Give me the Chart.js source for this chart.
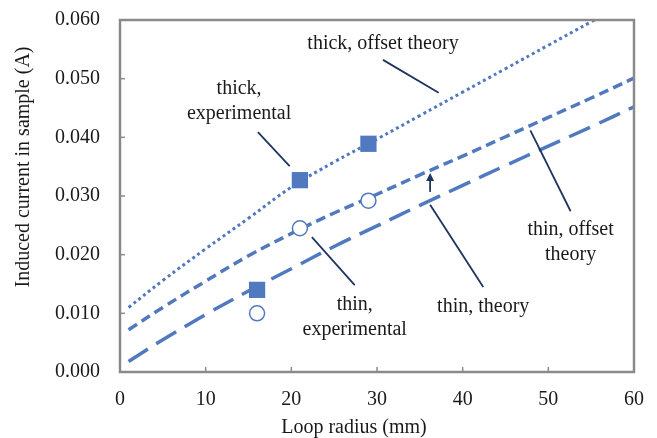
<!DOCTYPE html>
<html>
<head>
<meta charset="utf-8">
<script src="https://cdn.jsdelivr.net/npm/chart.js@4.4.1/dist/chart.umd.min.js"></script>
<style>
  html, body { margin: 0; padding: 0; background: #fff; }
  #wrap { width: 657px; height: 438px; }
</style>
</head>
<body>
<div id="wrap"><canvas id="c" width="657" height="438"></canvas></div>
<script>
// loop radius (mm) for the theory curves
const radius = [1, 5, 10, 15, 20, 25, 30, 35, 40, 45, 50, 55, 60];
const thickOffsetTheory = [0.0110, 0.0156, 0.0210, 0.0262, 0.0315, 0.0358, 0.0397, 0.0437, 0.0477, 0.0517, 0.0557, 0.0597, 0.0637];
const thinOffsetTheory = [0.0072, 0.0110, 0.0155, 0.0198, 0.0236, 0.0271, 0.0303, 0.0336, 0.0368, 0.0401, 0.0434, 0.0467, 0.0501];
const thinTheory = [0.0018, 0.0055, 0.0098, 0.0138, 0.0176, 0.0214, 0.0249, 0.0284, 0.0318, 0.0352, 0.0385, 0.0418, 0.0452];

// measured points
const expRadius = [16, 21, 29];
const thickExperimental = [0.0140, 0.0327, 0.0389];
const thinExperimental = [0.0100, 0.0245, 0.0292];

const xTicks = [0, 10, 20, 30, 40, 50, 60];
const yTicks = [0, 0.01, 0.02, 0.03, 0.04, 0.05, 0.06];

// callouts, in data units
const notes = [
  { lines: ['thick, offset theory'], x: 30.7, y: 0.0560, from: [30.7, 0.0532], to: [37.2, 0.0476] },
  { lines: ['thick,', 'experimental'], x: 13.9, y: 0.0462, from: [16.1, 0.0409], to: [19.8, 0.0351] },
  { lines: ['thin, offset', 'theory'], x: 52.6, y: 0.0221, from: [47.9, 0.0412], to: [52.6, 0.0274] },
  { lines: ['thin, theory'], x: 42.4, y: 0.0112, from: [36.2, 0.0285], to: [42.4, 0.0145] },
  { lines: ['thin,', 'experimental'], x: 27.4, y: 0.0094, from: [22.4, 0.0230], to: [27.4, 0.0148] }
];
const arrow = { x: 36.2, from: 0.0307, to: 0.0339 };

const BLUE = '#5079c0';
const NAVY = '#1f3560';
const FONT = '"Liberation Serif", "Times New Roman", serif';

const pts = (xs, ys) => xs.map((x, i) => ({ x: x, y: ys[i] }));

const extras = {
  id: 'extras',
  afterDraw(chart) {
    const { ctx, chartArea: a, scales: { x, y } } = chart;
    ctx.save();
    // frame and inward ticks
    ctx.strokeStyle = '#8a8a8a';
    ctx.lineWidth = 1.5;
    xTicks.slice(1, -1).forEach(v => {
      const px = x.getPixelForValue(v);
      ctx.beginPath(); ctx.moveTo(px, a.bottom); ctx.lineTo(px, a.bottom - 5); ctx.stroke();
    });
    yTicks.slice(1, -1).forEach(v => {
      const py = y.getPixelForValue(v);
      ctx.beginPath(); ctx.moveTo(a.left, py); ctx.lineTo(a.left + 5, py); ctx.stroke();
    });
    ctx.lineWidth = 2.5;
    ctx.strokeRect(a.left, a.top, a.right - a.left, a.bottom - a.top);

    // leader lines
    ctx.strokeStyle = NAVY;
    ctx.lineWidth = 1.8;
    notes.forEach(n => {
      ctx.beginPath();
      ctx.moveTo(x.getPixelForValue(n.from[0]), y.getPixelForValue(n.from[1]));
      ctx.lineTo(x.getPixelForValue(n.to[0]), y.getPixelForValue(n.to[1]));
      ctx.stroke();
    });
    // arrow
    const ax = x.getPixelForValue(arrow.x);
    const a0 = y.getPixelForValue(arrow.from), a1 = y.getPixelForValue(arrow.to);
    ctx.beginPath(); ctx.moveTo(ax, a0); ctx.lineTo(ax, a1 + 6); ctx.stroke();
    ctx.fillStyle = NAVY;
    ctx.beginPath(); ctx.moveTo(ax, a1); ctx.lineTo(ax - 4, a1 + 8); ctx.lineTo(ax + 4, a1 + 8); ctx.closePath(); ctx.fill();

    // callout text
    ctx.fillStyle = '#1a1a1a';
    ctx.font = '20px ' + FONT;
    ctx.textAlign = 'center';
    ctx.textBaseline = 'middle';
    notes.forEach(n => {
      const cx = x.getPixelForValue(n.x), cy = y.getPixelForValue(n.y);
      const top = cy - (n.lines.length - 1) * 12.5;
      n.lines.forEach((t, i) => ctx.fillText(t, cx, top + i * 25));
    });

    // axis titles
    ctx.fillText('Loop radius (mm)', 354, 428);
    ctx.translate(24, 167);
    ctx.rotate(-Math.PI / 2);
    ctx.fillText('Induced current in sample (A)', 0, 0);
    ctx.restore();
  }
};

new Chart(document.getElementById('c'), {
  type: 'line',
  data: {
    datasets: [
      {
        label: 'thick, experimental', data: pts(expRadius, thickExperimental), showLine: false,
        pointStyle: 'rect', pointRadius: 11.5, pointBackgroundColor: BLUE, pointBorderColor: BLUE, pointBorderWidth: 0
      },
      {
        label: 'thin, experimental', data: pts(expRadius, thinExperimental), showLine: false,
        pointStyle: 'circle', pointRadius: 7.5, pointBackgroundColor: '#fff', pointBorderColor: BLUE, pointBorderWidth: 1.5
      },
      {
        label: 'thick, offset theory', data: pts(radius, thickOffsetTheory), borderColor: BLUE,
        borderWidth: 3, borderDash: [3, 3.2], pointRadius: 0, tension: 0.4
      },
      {
        label: 'thin, offset theory', data: pts(radius, thinOffsetTheory), borderColor: BLUE,
        borderWidth: 3.5, borderDash: [10, 5.5], pointRadius: 0, tension: 0.4
      },
      {
        label: 'thin, theory', data: pts(radius, thinTheory), borderColor: BLUE,
        borderWidth: 3.5, borderDash: [23, 10], pointRadius: 0, tension: 0.4
      }
    ]
  },
  options: {
    responsive: false,
    animation: false,
    devicePixelRatio: 1,
    layout: { padding: { left: 0, top: 20, right: 23, bottom: 0 } },
    plugins: { legend: { display: false }, tooltip: { enabled: false } },
    scales: {
      x: {
        type: 'linear', min: 0, max: 60,
        afterFit: s => { s.height = 66; s.paddingLeft = 0; s.paddingRight = 0; },
        afterBuildTicks: s => { s.ticks = xTicks.map(v => ({ value: v })); },
        grid: { display: false, drawTicks: false },
        border: { display: false },
        ticks: { color: '#1a1a1a', padding: 16, font: { family: FONT, size: 20 } }
      },
      y: {
        min: 0, max: 0.06,
        afterFit: s => { s.width = 120; s.paddingTop = 0; s.paddingBottom = 0; },
        afterBuildTicks: s => { s.ticks = yTicks.map(v => ({ value: v })); },
        grid: { display: false, drawTicks: false },
        border: { display: false },
        ticks: { color: '#1a1a1a', padding: 20, font: { family: FONT, size: 20 }, callback: v => v.toFixed(3) }
      }
    }
  },
  plugins: [extras]
});
</script>
</body>
</html>
